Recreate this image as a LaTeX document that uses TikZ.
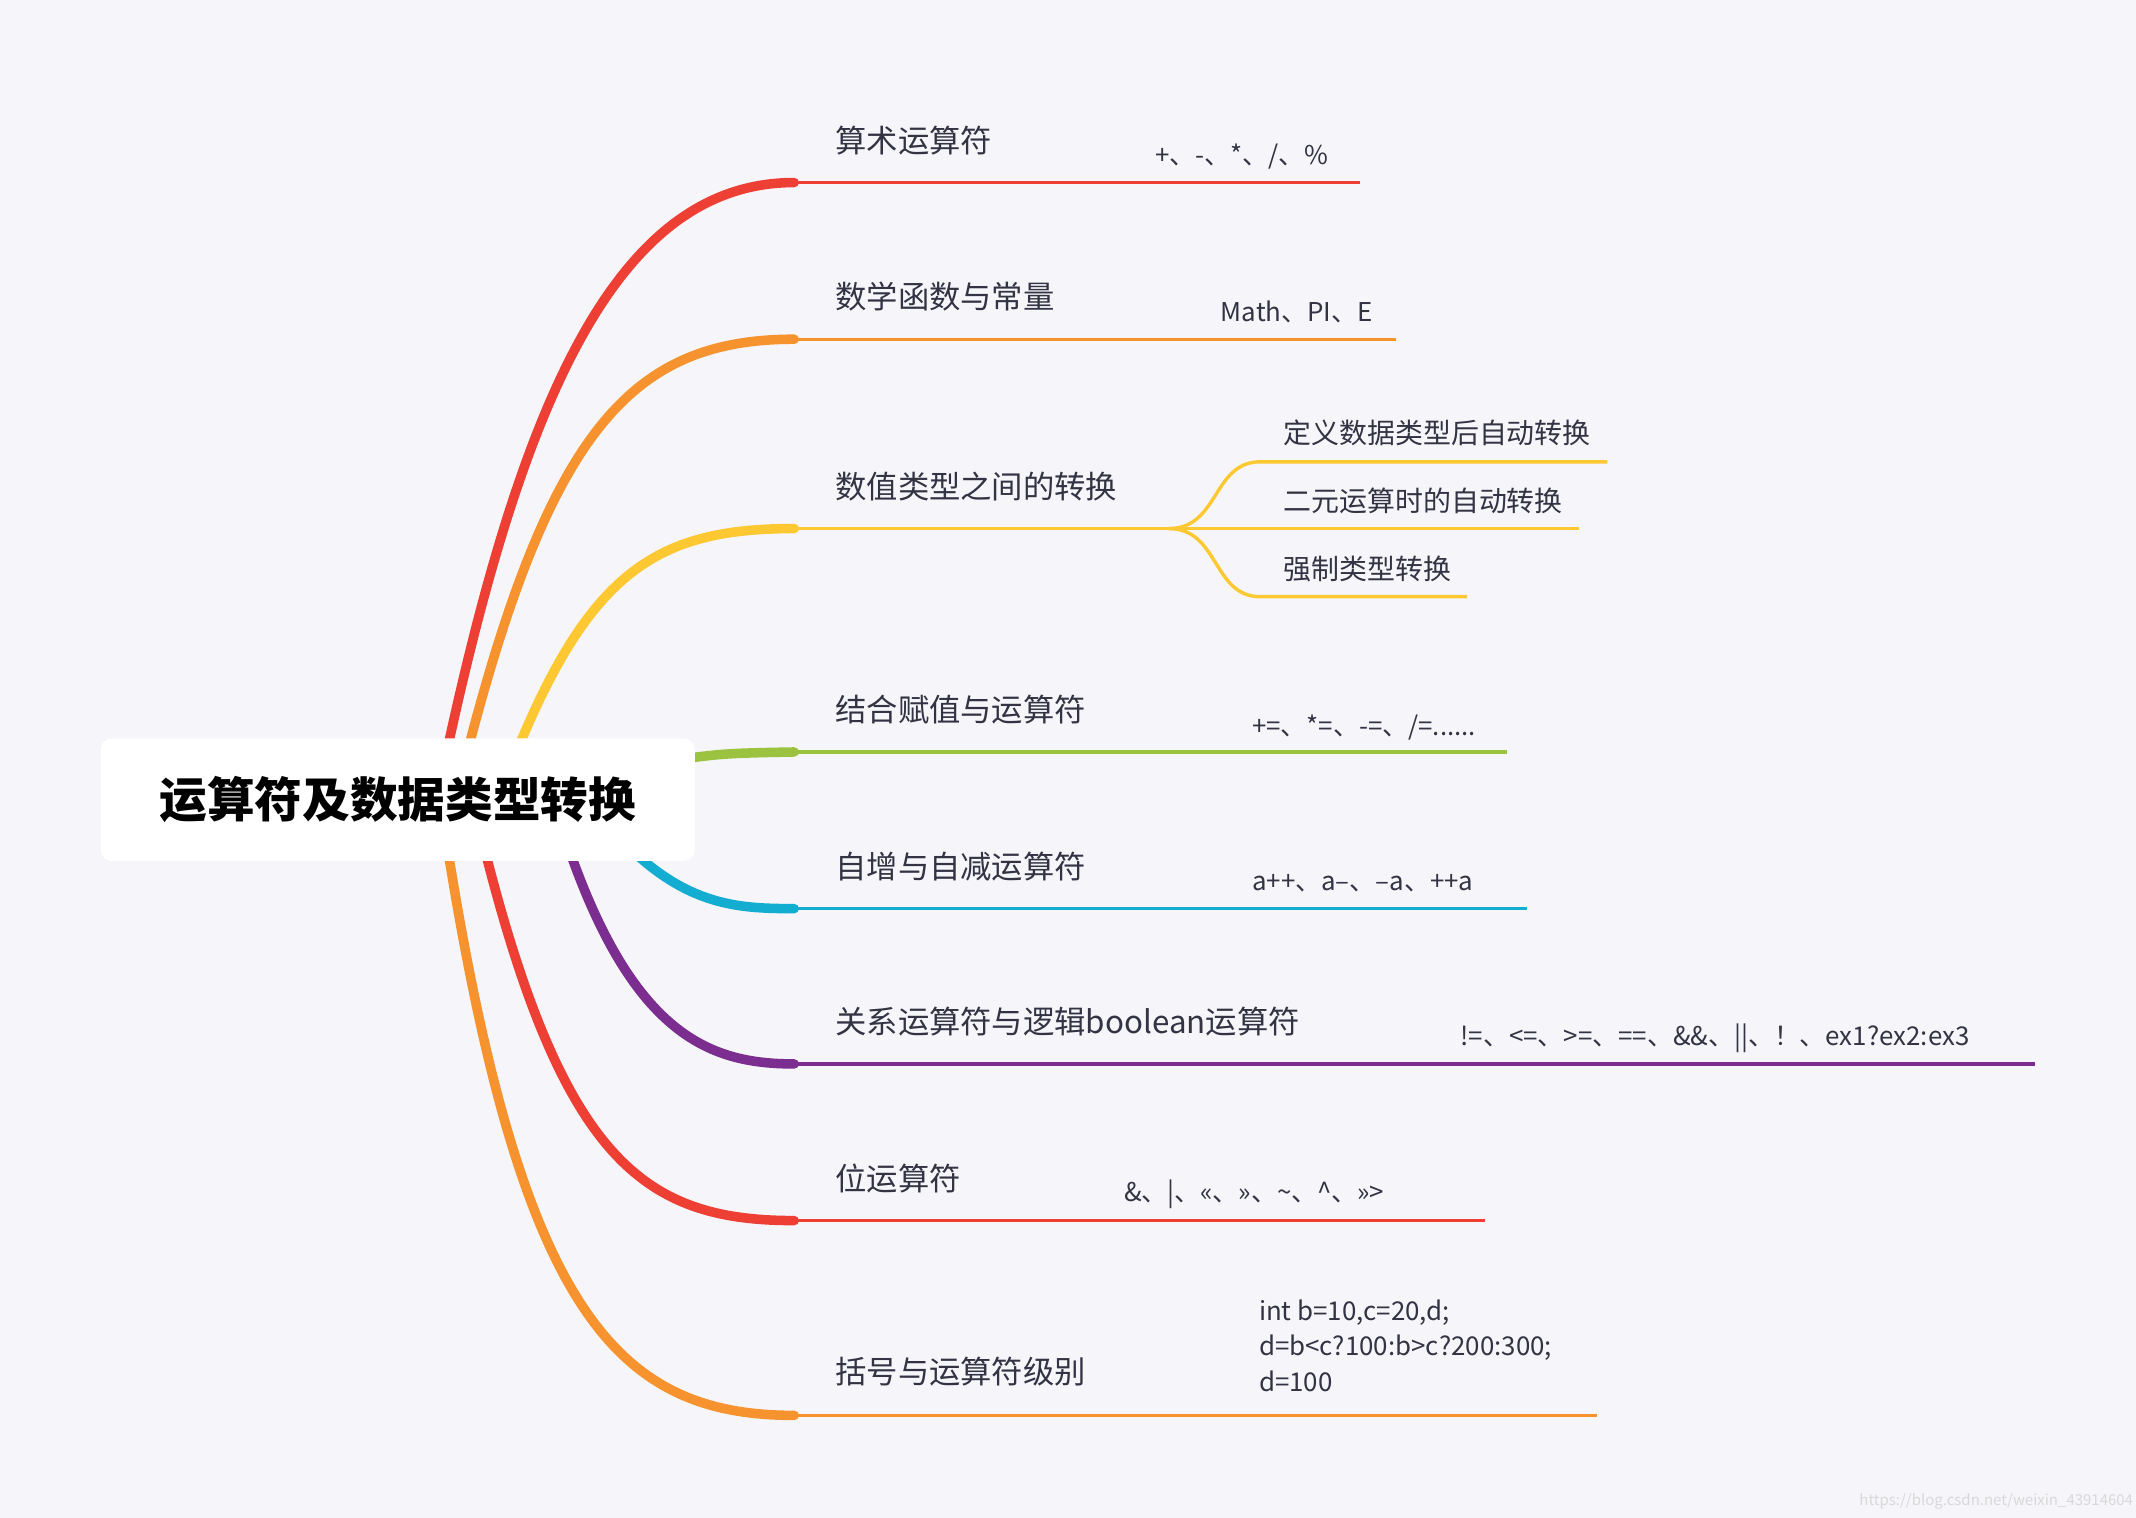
\documentclass[tikz,border=0pt]{standalone}
\usepackage{fontspec}
\setmainfont[Ligatures=ResetAll]{Noto Sans CJK SC}
\definecolor{bg}{HTML}{F5F5FA}
\definecolor{cR}{HTML}{EE3F34}
\definecolor{cO}{HTML}{F7932E}
\definecolor{cY}{HTML}{FDC832}
\definecolor{cG}{HTML}{9CC33F}
\definecolor{cC}{HTML}{13ADD1}
\definecolor{cP}{HTML}{7B2D90}
\definecolor{txt}{HTML}{333344}
\begin{document}
\begin{tikzpicture}[x=1pt,y=-1pt,
  lab/.style={anchor=west,inner sep=0,font=\fontsize{23}{26}\selectfont,text=txt},
  sub/.style={anchor=west,inner sep=0,font=\fontsize{19}{26}\selectfont,text=txt},
  thick/.style={line width=7pt,line cap=round},
  thin/.style={line width=2.5pt}]
\fill[bg] (0,0) rectangle (1568,1114);
\useasboundingbox (0,0) rectangle (1568,1114);
% curves
\draw[thick,cR] (322,580) .. controls (380,300) and (450,134) .. (583,134);
\draw[thick,cO] (336,580) .. controls (400,320) and (460,249) .. (583,249);
\draw[thick,cY] (372,570) .. controls (430,420) and (480,388) .. (583,388);
\draw[thick,cG] (480,560) .. controls (530,553) .. (583,552);
\draw[thick,cC] (450,610) .. controls (500,665) and (540,667) .. (583,667);
\draw[thick,cP] (410,600) .. controls (460,760) and (520,781) .. (583,781);
\draw[thick,cR] (350,600) .. controls (410,850) and (470,896) .. (583,896);
\draw[thick,cO] (325,600) .. controls (380,960) and (450,1039) .. (583,1039);
% horizontal lines
\draw[thin,cR] (583,134) -- (998,134);
\draw[thin,cO] (583,249) -- (1025,249);
\draw[thin,cY] (583,388) -- (858,388);
\draw[thin,cY] (858,388) .. controls (895,388) and (890,339) .. (925,339) -- (1180,339);
\draw[thin,cY] (858,388) -- (1159,388);
\draw[thin,cY] (858,388) .. controls (895,388) and (890,438) .. (925,438) -- (1077,438);
\draw[thin,cG] (583,552) -- (1106,552);
\draw[thin,cC] (583,667) -- (1121,667);
\draw[thin,cP] (583,781) -- (1494,781);
\draw[thin,cR] (583,896) -- (1090,896);
\draw[thin,cO] (583,1039) -- (1172,1039);
% root
\node[fill=white,rounded corners=8pt,minimum width=436,minimum height=90,inner sep=0,
  font=\fontsize{35}{40}\selectfont\bfseries] (root) at (292,587) {运算符及数据类型转换};
% labels
\node[lab] (l1) at (613,103) {算术运算符};
\node[sub] (s1) at (848,115) {+、-、*、/、\%};
\node[lab] (l2) at (613,218) {数学函数与常量};
\node[sub] (s2) at (896,229) {Math、PI、E};
\node[lab] (l3) at (613,357) {数值类型之间的转换};
\node[sub,font=\fontsize{20.5}{24}\selectfont] (s3a) at (942,318) {定义数据类型后自动转换};
\node[sub,font=\fontsize{20.5}{24}\selectfont] (s3b) at (942,368) {二元运算时的自动转换};
\node[sub,font=\fontsize{20.5}{24}\selectfont] (s3c) at (942,418) {强制类型转换};
\node[lab] (l4) at (613,521) {结合赋值与运算符};
\node[sub] (s4) at (919,534) {+=、*=、-=、/=......};
\node[lab] (l5) at (613,636) {自增与自减运算符};
\node[sub] (s5) at (919,648) {a++、a--、--a、++a};
\node[lab] (l6) at (613,750) {关系运算符与逻辑boolean运算符};
\node[sub] (s6) at (1072,762) {!=、<=、>=、==、\&\&、||、！、ex1?ex2:ex3};
\node[lab] (l7) at (613,865) {位运算符};
\node[sub] (s7) at (825,877) {\&、|、<<、>>、\textasciitilde、\textasciicircum、>>>};
\node[lab] (l8) at (613,1007) {括号与运算符级别};
\node[sub,align=left,anchor=north west] (s8) at (924,954) {int b=10,c=20,d;\\d=b<c?100:b>c?200:300;\\d=100};
\node[anchor=south east,inner sep=2pt,font=\fontsize{11}{12}\selectfont,text=black!15] (wm) at (1568,1110) {https://blog.csdn.net/weixin\_43914604};
\end{tikzpicture}
\end{document}
